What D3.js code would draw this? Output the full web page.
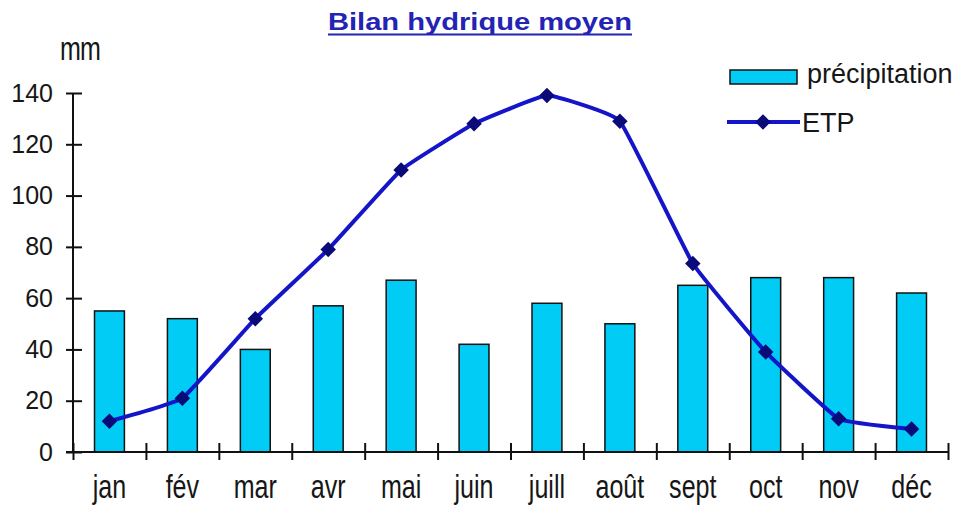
<!DOCTYPE html>
<html>
<head>
<meta charset="utf-8">
<script src="https://cdn.jsdelivr.net/npm/d3@7"></script>
<style>
  body { margin: 0; background: #fff; }
  text { font-family: "Liberation Sans", Arial, sans-serif; fill: #161616; }
</style>
</head>
<body>
<svg id="chart" width="957" height="506"></svg>
<script>
// data
var months = ["jan", "fév", "mar", "avr", "mai", "juin", "juill", "août", "sept", "oct", "nov", "déc"];
var precipitation = [55, 52, 40, 57, 67, 42, 58, 50, 65, 68, 68, 62];
var etp = [12, 21, 52, 79, 110, 128, 139, 129, 73.5, 39, 13, 9];
var yTicks = [0, 20, 40, 60, 80, 100, 120, 140];

var svg = d3.select("#chart");
var margin = {left: 73, top: 93, right: 9, bottom: 54};
var width = 957 - margin.left - margin.right,
    height = 506 - margin.top - margin.bottom;

var g = svg.append("g").attr("transform", "translate(" + margin.left + "," + margin.top + ")");

var x = d3.scaleBand().domain(months).range([0, width]).paddingInner(0.59).paddingOuter(0.295);
var xEdges = d3.scaleLinear().domain([0, months.length]).range([0, width]);
var y = d3.scaleLinear().domain([0, 140]).range([height, 0]);

// bars
g.selectAll(".bar")
  .data(months)
  .enter().append("rect")
  .attr("class", "bar")
  .attr("x", function(d) { return x(d); })
  .attr("width", x.bandwidth())
  .attr("y", function(d, i) { return y(precipitation[i]); })
  .attr("height", function(d, i) { return height - y(precipitation[i]); })
  .style("fill", "#00ccf5")
  .style("stroke", "#111")
  .style("stroke-width", 1.5);

// y axis with crossing ticks
var yAxis = g.append("g").call(d3.axisLeft(y).tickValues(yTicks).tickSize(7).tickPadding(13));
yAxis.select(".domain").attr("d", "M0," + height + "V0").style("stroke", "#111").style("stroke-width", 2);
yAxis.selectAll(".tick line").attr("x1", -7).attr("x2", 9).style("stroke", "#111").style("stroke-width", 2);
yAxis.selectAll(".tick text").style("font-size", "25px").style("fill", "#161616")
  .style("font-family", "'Liberation Sans', Arial, sans-serif");

// x axis: boundary ticks + month labels
var xAxis = g.append("g").attr("transform", "translate(0," + height + ")")
  .call(d3.axisBottom(xEdges).ticks(12).tickSize(8).tickFormat(""));
xAxis.select(".domain").attr("d", "M-7,0H" + width).style("stroke", "#111").style("stroke-width", 2);
xAxis.selectAll(".tick line").attr("y1", -9).attr("y2", 8).style("stroke", "#111").style("stroke-width", 2);

var xLabels = g.append("g").attr("transform", "translate(0," + height + ")")
  .call(d3.axisBottom(x).tickSize(0));
xLabels.select(".domain").remove();
xLabels.selectAll(".tick text")
  .attr("y", 46).attr("dy", 0)
  .attr("transform", "scale(0.76,1)")
  .style("font-size", "33px").style("fill", "#161616")
  .style("font-family", "'Liberation Sans', Arial, sans-serif");

// ETP line
var line = d3.line()
  .x(function(d, i) { return x(months[i]) + x.bandwidth() / 2; })
  .y(function(d) { return y(d); })
  .curve(d3.curveCardinal.tension(0.7));

g.append("path")
  .datum(etp)
  .attr("d", line)
  .style("fill", "none")
  .style("stroke", "#1414c8")
  .style("stroke-width", 4);

var marker = d3.symbol().type(d3.symbolSquare).size(120);
g.selectAll(".pt")
  .data(etp)
  .enter().append("path")
  .attr("class", "pt")
  .attr("transform", function(d, i) { return "translate(" + (x(months[i]) + x.bandwidth() / 2) + "," + y(d) + ") rotate(45)"; })
  .attr("d", marker)
  .style("fill", "#0a0a78");

// title
svg.append("text")
  .attr("x", 328).attr("y", 30)
  .attr("textLength", 304).attr("lengthAdjust", "spacingAndGlyphs")
  .style("font-size", "24px").style("font-weight", "bold")
  .style("fill", "#2323b4")
  .text("Bilan hydrique moyen");
svg.append("line")
  .attr("x1", 328).attr("x2", 632)
  .attr("y1", 34.5).attr("y2", 34.5)
  .style("stroke", "#2323b4").style("stroke-width", 2);

// unit
svg.append("text").attr("x", 60 / 0.76).attr("y", 60)
  .attr("transform", "scale(0.76,1)")
  .style("font-size", "33px").style("letter-spacing", "-1px").text("mm");

// legend
var legend = svg.append("g");
legend.append("rect").attr("x", 730).attr("y", 70).attr("width", 67).attr("height", 14)
  .style("fill", "#00ccf5").style("stroke", "#111").style("stroke-width", 1.5);
legend.append("text").attr("x", 807).attr("y", 83).style("font-size", "27px").text("précipitation");
legend.append("line").attr("x1", 727).attr("x2", 800).attr("y1", 122).attr("y2", 122)
  .style("stroke", "#1414c8").style("stroke-width", 4);
legend.append("path").attr("transform", "translate(763,122) rotate(45)")
  .attr("d", marker).style("fill", "#0a0a78");
legend.append("text").attr("x", 802).attr("y", 132).style("font-size", "27px").text("ETP");
</script>
</body>
</html>
